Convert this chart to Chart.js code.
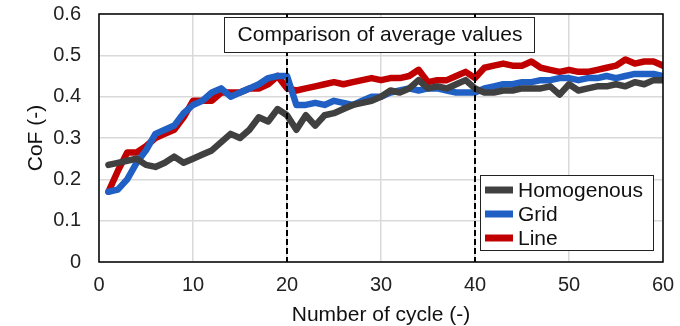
<!DOCTYPE html>
<html><head><meta charset="utf-8">
<script src="https://cdn.jsdelivr.net/npm/chart.js@4/dist/chart.umd.min.js"></script>
<style>html,body{margin:0;padding:0;background:#fff}#wrap{width:680px;height:326px;position:relative}</style>
</head><body><div id="wrap"><canvas id="c" width="680" height="326"></canvas></div>
<script>
const cycles = Array.from({length:60},(_,i)=>i+1);
const seriesNames = ["Homogenous","Grid","Line"];
const homogenous = [0.235,0.24,0.245,0.25,0.235,0.23,0.24,0.255,0.24,0.25,0.26,0.27,0.29,0.31,0.30,0.32,0.35,0.34,0.37,0.355,
0.32,0.355,0.33,0.355,0.36,0.37,0.38,0.385,0.39,0.40,0.415,0.41,0.42,0.44,0.42,0.425,0.42,0.43,0.44,0.42,
0.41,0.41,0.415,0.415,0.42,0.42,0.42,0.425,0.405,0.43,0.415,0.42,0.425,0.425,0.43,0.425,0.435,0.43,0.44,0.44];
const grid = [0.17,0.175,0.2,0.24,0.27,0.31,0.32,0.33,0.36,0.38,0.39,0.41,0.42,0.40,0.41,0.42,0.43,0.445,0.45,0.45,
0.38,0.38,0.385,0.38,0.39,0.385,0.38,0.39,0.40,0.40,0.41,0.415,0.42,0.415,0.42,0.42,0.415,0.41,0.41,0.41,
0.42,0.425,0.43,0.43,0.435,0.435,0.44,0.44,0.445,0.445,0.44,0.445,0.445,0.45,0.445,0.45,0.455,0.455,0.455,0.45];
const line = [0.17,0.22,0.265,0.265,0.28,0.30,0.31,0.32,0.35,0.39,0.39,0.39,0.41,0.41,0.41,0.42,0.42,0.43,0.45,0.42,
0.415,0.42,0.425,0.43,0.435,0.43,0.435,0.44,0.445,0.44,0.445,0.445,0.45,0.465,0.435,0.44,0.44,0.45,0.46,0.445,
0.47,0.475,0.48,0.475,0.475,0.485,0.47,0.465,0.46,0.465,0.46,0.46,0.465,0.47,0.475,0.49,0.48,0.485,0.485,0.475];
const xTicks = [0,10,20,30,40,50,60];
const yTicks = [0,0.1,0.2,0.3,0.4,0.5,0.6];
const dividers = [20,40];
const annotationText = "Comparison of average values";
const colors = ["#404040","#2060c4","#c00000"];

const FONT = "'Liberation Sans', Arial, sans-serif";
const mk = (vals)=>cycles.map((c,i)=>({x:c,y:vals[i]}));

const overlay = {
  id:'overlay',
  afterDatasetsDraw(chart){
    const {ctx, chartArea:a, scales:{x,y}} = chart;
    ctx.save();
    // dashed dividers
    ctx.strokeStyle='#000'; ctx.lineWidth=2; ctx.setLineDash([6,3]);
    dividers.forEach(d=>{
      const px=Math.round(x.getPixelForValue(d));
      ctx.beginPath(); ctx.moveTo(px,a.top); ctx.lineTo(px,a.bottom); ctx.stroke();
    });
    ctx.setLineDash([]);
    // border
    ctx.lineWidth=1.5; ctx.strokeStyle='#000';
    ctx.strokeRect(a.left,a.top,a.right-a.left,a.bottom-a.top);
    // annotation box
    ctx.font = "21px "+FONT;
    const bx=224, by=17, bw=310, bh=35;
    ctx.fillStyle='#fff'; ctx.fillRect(bx,by,bw,bh);
    ctx.lineWidth=1; ctx.strokeStyle='#222'; ctx.strokeRect(bx+0.5,by+0.5,bw,bh);
    ctx.fillStyle='#111'; ctx.textAlign='center'; ctx.textBaseline='middle';
    ctx.fillText(annotationText, bx+bw/2+1, by+bh/2+1);
    // legend
    const lx=480, ly=175, lw=173, lh=75;
    ctx.fillStyle='#fff'; ctx.fillRect(lx,ly,lw,lh);
    ctx.strokeStyle='#222'; ctx.lineWidth=1; ctx.strokeRect(lx+0.5,ly+0.5,lw,lh);
    ctx.textAlign='left';
    seriesNames.forEach((n,i)=>{
      const yy = ly+15+i*24;
      ctx.strokeStyle=colors[i]; ctx.lineWidth=7;
      ctx.beginPath(); ctx.moveTo(lx+5,yy); ctx.lineTo(lx+33,yy); ctx.stroke();
      ctx.fillStyle='#111'; ctx.fillText(n, lx+38, yy+1);
    });
    ctx.restore();
  }
};

new Chart(document.getElementById('c'), {
  type:'line',
  data:{datasets:[
    {label:seriesNames[0], data:mk(homogenous), borderColor:colors[0]},
    {label:seriesNames[1], data:mk(grid), borderColor:colors[1]},
    {label:seriesNames[2], data:mk(line), borderColor:colors[2]}
  ].map(d=>Object.assign(d,{borderWidth:6.5, pointRadius:0, tension:0, fill:false, borderJoinStyle:'round', borderCapStyle:'round'}))},
  options:{
    responsive:false, animation:false, devicePixelRatio:1,
    layout:{padding:{top:14,right:17,left:24,bottom:0}},
    plugins:{legend:{display:false}, tooltip:{enabled:false}},
    scales:{
      x:{type:'linear', min:0, max:60,
        afterBuildTicks(s){ s.ticks = xTicks.map(v=>({value:v})); },
        afterFit(s){ s.height=64; s.paddingLeft=0; s.paddingRight=0; },
        grid:{color:'#d9d9d9', lineWidth:1.5, drawTicks:false},
        border:{display:false},
        ticks:{font:{family:FONT,size:20}, color:'#222', padding:11, maxRotation:0},
        title:{display:true, text:'Number of cycle (-)', font:{family:FONT,size:21}, color:'#111', padding:{top:0,bottom:-2}}
      },
      y:{min:0, max:0.6,
        afterBuildTicks(s){ s.ticks = yTicks.map(v=>({value:v})); },
        afterFit(s){ s.width=75; s.paddingTop=0; s.paddingBottom=0; },
        grid:{color:'#d9d9d9', lineWidth:1.5, drawTicks:false},
        border:{display:false},
        ticks:{font:{family:FONT,size:20}, color:'#222', padding:18, callback:v=>String(+v.toFixed(1))},
        title:{display:true, text:'CoF (-)', font:{family:FONT,size:21}, color:'#111', padding:{top:0,bottom:0}}
      }
    }
  },
  plugins:[overlay]
});
</script></body></html>
